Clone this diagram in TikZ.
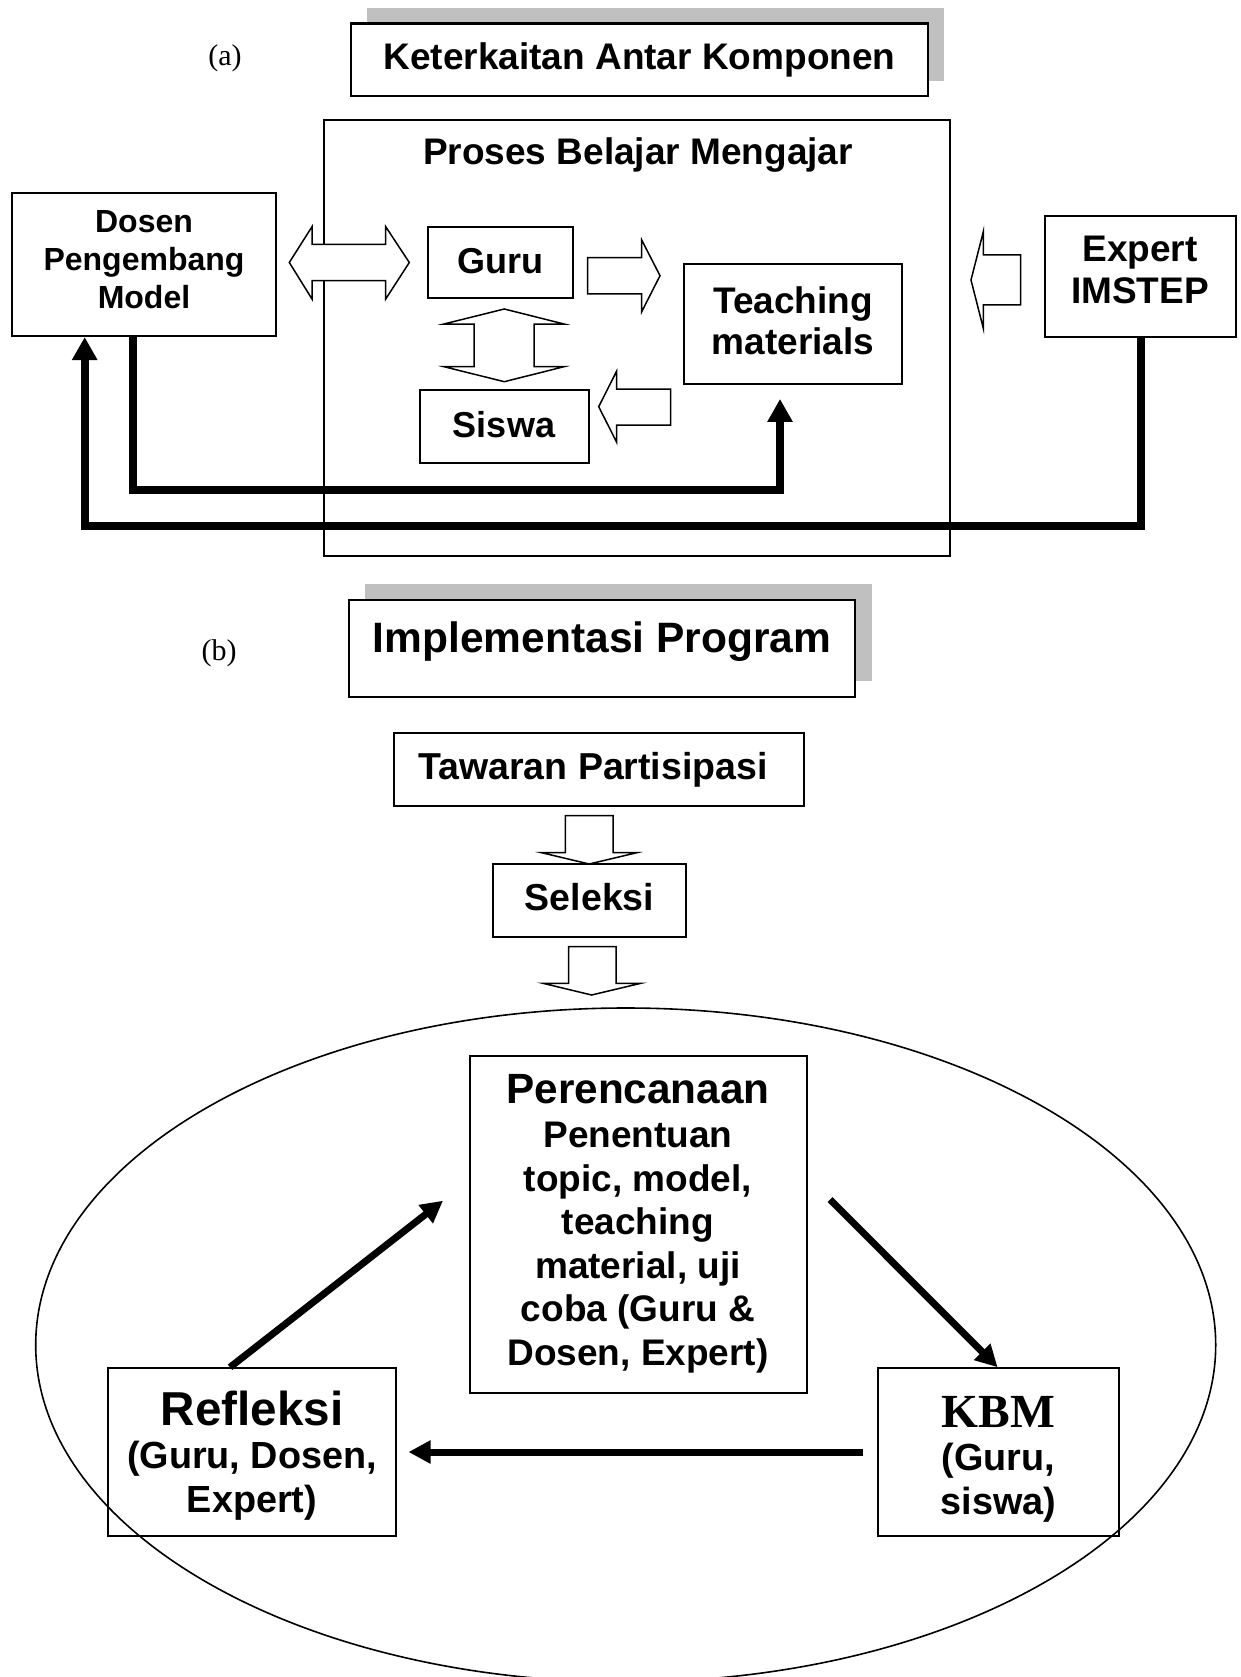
\documentclass[tikz,border=0pt]{standalone}
\usepackage{fontspec}
\setmainfont{Liberation Serif}
\setsansfont{Liberation Sans}
\usetikzlibrary{arrows.meta,shapes.geometric}
\definecolor{shadowgray}{HTML}{C0C0C0}
\newcommand\myfs[2]{\fontsize{#1}{#2}\selectfont}
\newcommand\mydepth[1]{\rule[-#1]{0pt}{0pt}}
\begin{document}
\begin{tikzpicture}[x=1pt,y=-1pt,
  box/.style={draw,line width=2pt,fill=white,inner sep=0pt,align=center,font=\sffamily\bfseries},
  f37/.style={font=\sffamily\bfseries\myfs{37}{42}},
  blockarrow/.style={draw,line width=1.5pt,fill=white,line join=miter},
  thickarrow/.style={line width=8pt,line join=miter,-{Triangle[length=23pt,width=24pt]}},
  diagarrow/.style={line width=7pt,-{Triangle[length=22pt,width=22pt]}}
]
\useasboundingbox (0,0) rectangle (1240,1677);
\clip (0,0) rectangle (1240,1677);

% ---------------- part (a) ----------------
\node[font=\myfs{30}{34}] (la) at (225,58) {(a)};
\fill[shadowgray] (367,8) rectangle (943.5,81);
\node[box,line width=2.5pt,minimum width=577pt,minimum height=72.5pt,font=\sffamily\bfseries\myfs{37}{42}] (title1) at (639.5,60) {Keterkaitan Antar Komponen};

\node[box,minimum width=626pt,minimum height=436pt] (pbm) at (637,338) {};
\node[f37] (pbmt) at (638,155) {Proses Belajar Mengajar};

\node[box,minimum width=264pt,minimum height=143pt,font=\sffamily\bfseries\myfs{32}{38}] (dosen) at (144,264.5) {Dosen\\Pengembang\\Model\mydepth{10pt}};
\node[box,minimum width=145pt,minimum height=71.5pt,font=\sffamily\bfseries\myfs{36}{40}] (guru) at (500.5,262.7) {Guru\mydepth{4pt}};
\node[box,minimum width=169pt,minimum height=73pt,font=\sffamily\bfseries\myfs{36}{40}] (siswa) at (504,426) {Siswa\mydepth{4pt}};
\node[box,minimum width=218pt,minimum height=119.5pt,font=\sffamily\bfseries\myfs{37}{41.5}] (tm) at (793,324.2) {Teaching\\materials\mydepth{7pt}};
\node[box,minimum width=191pt,minimum height=121pt,font=\sffamily\bfseries\myfs{37}{42.5}] (expert) at (1140,276.5) {Expert\\IMSTEP\mydepth{13pt}};

% block arrows
\draw[blockarrow] (289.3,262.5) -- (312,226.7) -- (312,244.3) -- (385.7,244.3) -- (385.7,226.7) -- (409.3,262.5) -- (385.7,299) -- (385.7,280.7) -- (312,280.7) -- (312,299) -- cycle;
\draw[blockarrow] (587.7,257.7) -- (641.7,257.7) -- (641.7,240) -- (660,275.7) -- (641.7,311.7) -- (641.7,294) -- (587.7,294) -- cycle;
\draw[blockarrow] (504.3,309) -- (564,324) -- (534,324) -- (534,366.7) -- (564,366.7) -- (504.3,381.7) -- (444,366.7) -- (474,366.7) -- (474,324) -- (444,324) -- cycle;
\draw[blockarrow] (598.7,406.7) -- (616.7,371) -- (616.7,389) -- (670.7,389) -- (670.7,425) -- (616.7,425) -- (616.7,442.3) -- cycle;
\draw[blockarrow] (971,280) -- (983.3,231.7) -- (983.3,255) -- (1020.7,255) -- (1020.7,305) -- (983.3,305) -- (983.3,328.3) -- cycle;

% thick feedback lines
\coordinate (k1) at (132.5,489.7);
\coordinate (k2) at (780,489.7);
\coordinate (k3) at (1141,525.5);
\coordinate (k4) at (84.7,525.5);
\draw[thickarrow] (dosen.south -| k1) -- (k1) -- (k2) -- ([yshift=-14pt]tm.south -| k2);
\draw[thickarrow] (expert.south -| k3) -- (k3) -- (k4) -- (dosen.south -| k4);

% ---------------- part (b) ----------------
\node[font=\myfs{30}{34}] (lb) at (219,653) {(b)};
\fill[shadowgray] (365,584) rectangle (871.5,681);
\node[box,line width=2.5pt,minimum width=506pt,minimum height=97pt] (impl) at (602,648.5) {};
\node[font=\sffamily\bfseries\myfs{42.5}{48}] (implt) at (602,642) {Implementasi Program};

\node[box,minimum width=410pt,minimum height=73pt,font=\sffamily\bfseries\myfs{37.5}{42}] (tawar) at (599,769.5) {Tawaran Partisipasi\hspace{12pt}};
\node[box,minimum width=193pt,minimum height=73pt,font=\sffamily\bfseries\myfs{37.5}{42}] (sel) at (589.5,900.5) {Seleksi\mydepth{8pt}};

\draw[blockarrow] (565.4,815.7) -- (613,815.7) -- (613,852.7) -- (636.8,852.7) -- (589.2,864) -- (541.6,852.7) -- (565.4,852.7) -- cycle;
\draw[blockarrow] (568.6,946.7) -- (616,946.7) -- (616,983.3) -- (640.8,983.3) -- (591.6,995) -- (543,983.3) -- (568.6,983.3) -- cycle;

\node[box,minimum width=337pt,minimum height=337pt,font=\sffamily\bfseries\myfs{37}{43.6}] (plan) at (638,1224) {\myfs{42.3}{47}Perencanaan\\\myfs{37}{43.6}Penentuan\\topic, model,\\teaching\\material, uji\\coba (Guru \&\\Dosen, Expert)};
\node[box,minimum width=288pt,minimum height=167.5pt,font=\sffamily\bfseries\myfs{37.8}{43.5}] (refl) at (252,1452) {\myfs{47.6}{60}\rule{0pt}{41pt}Refleksi\\\myfs{37.8}{43.5}(Guru, Dosen,\\Expert)};
\node[box,minimum width=241pt,minimum height=167.5pt,font=\sffamily\bfseries\myfs{37.8}{43.5}] (kbm) at (998.5,1452) {\rmfamily\myfs{47.5}{57}\rule{0pt}{45pt}KBM\\\sffamily\myfs{37.8}{43.5}(Guru,\\siswa)};

\draw[line width=1.6pt] (625.7,1345) ellipse [x radius=590pt, y radius=337pt];

\coordinate (r1) at (230,1368);
\coordinate (p1) at (443,1200.7);
\coordinate (p2) at (830,1199.5);
\coordinate (q1) at (997.6,1367);
\draw[diagarrow] (refl.north -| r1) -- (p1);
\draw[diagarrow] (p2) -- (kbm.north -| q1);
\draw[diagarrow] ([xshift=-14pt]kbm.west) -- ([xshift=11.5pt]refl.east);
\end{tikzpicture}
\end{document}
